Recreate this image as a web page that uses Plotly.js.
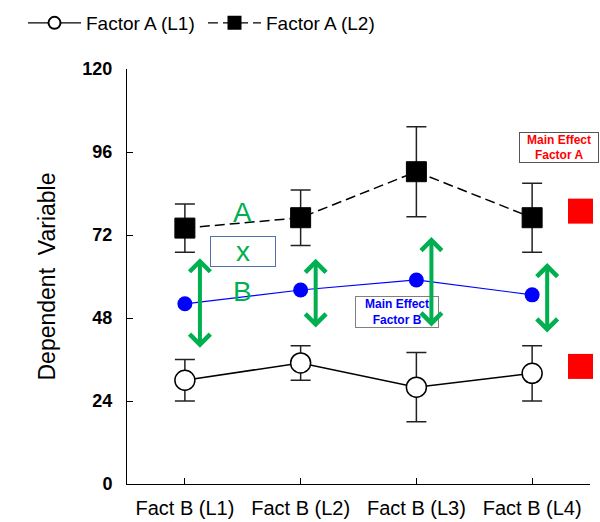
<!DOCTYPE html>
<html>
<head>
<meta charset="utf-8">
<script src="https://cdn.plot.ly/plotly-3.0.1.min.js"></script>
<style>
  html, body { margin: 0; padding: 0; background: #fff; }
  #chart { width: 600px; height: 522px; }
  #chart .legendlines path { stroke-width: 1.2px !important; }
</style>
</head>
<body>
<div id="chart"></div>
<script>
// ---- data ----
const categories = ['Fact B (L1)', 'Fact B (L2)', 'Fact B (L3)', 'Fact B (L4)'];
const factorA1 = [30, 35, 28, 32];
const factorA1Err = [6, 5, 10, 8];
const factorA2 = [74, 77, 90.3, 77];
const factorA2Err = [7, 8, 13, 10];
const meanB = [52.1, 56.1, 59.0, 54.7];
const mainEffectA = [78.9, 34.0];
const arrowTop = [65.3, 65.1, 71.4, 63.9];
const arrowBottom = [39.0, 44.8, 45.1, 43.4];
const yTicks = [0, 24, 48, 72, 96, 120];

// ---- build ----
const xs = categories.map((c, i) => i);
const FONT = 'Liberation Sans, Arial, Helvetica, sans-serif';
const GREEN = '#00B050';

const traces = [
  {
    name: 'Factor A (L1)', x: xs, y: factorA1, type: 'scatter', mode: 'lines+markers',
    line: {color: '#000', width: 1.5},
    marker: {symbol: 'circle', size: 20, color: '#fff', line: {color: '#000', width: 1.5}},
    error_y: {type: 'data', array: factorA1Err, visible: true, color: '#222', thickness: 1.5, width: 10},
    showlegend: true
  },
  {
    name: 'Factor A (L2)', x: xs, y: factorA2, type: 'scatter', mode: 'lines+markers',
    line: {color: '#000', width: 1.5, dash: '10px,5px'},
    marker: {symbol: 'square', size: 20, color: '#000', line: {color: '#000', width: 1}},
    error_y: {type: 'data', array: factorA2Err, visible: true, color: '#222', thickness: 1.5, width: 10},
    showlegend: true
  },
  {
    name: 'Mean', x: xs, y: meanB, type: 'scatter', mode: 'lines+markers',
    line: {color: '#0000FF', width: 1.2},
    marker: {symbol: 'circle', size: 15, color: '#0000FF'},
    showlegend: false
  },
  {
    name: 'Main Effect A', x: mainEffectA.map(() => categories.length - 1 + 0.418), y: mainEffectA,
    type: 'scatter', mode: 'markers',
    marker: {symbol: 'square', size: 25, color: '#FF0000'},
    cliponaxis: false, showlegend: false
  }
];

const annotations = [];
// text labels A, x, B
annotations.push({x: 0.5, y: 78.4, xref: 'x', yref: 'y', text: 'A', showarrow: false,
  font: {family: FONT, size: 28, color: GREEN}});
annotations.push({x: 0.5, y: 67.3, xref: 'x', yref: 'y', text: 'x', showarrow: false,
  font: {family: FONT, size: 28, color: GREEN}, bordercolor: '#4F71A8', borderwidth: 1,
  borderpad: 0, width: 64, height: 29, valign: 'middle'});
annotations.push({x: 0.5, y: 55.7, xref: 'x', yref: 'y', text: 'B', showarrow: false,
  font: {family: FONT, size: 28, color: GREEN}});
// main effect boxes
annotations.push({x: 1.836, y: 49.7, xref: 'x', yref: 'y', text: '<b>Main Effect</b><br><b>Factor B</b>',
  showarrow: false, font: {family: FONT, size: 12, color: '#0000FF'}, bordercolor: '#808080',
  borderwidth: 1, borderpad: 0, width: 82, height: 30, bgcolor: 'rgba(255,255,255,0)'});
annotations.push({x: 3.23, y: 97.4, xref: 'x', yref: 'y', text: '<b>Main Effect</b><br><b>Factor A</b>',
  showarrow: false, font: {family: FONT, size: 12, color: '#FF0000'}, bordercolor: '#555555',
  borderwidth: 1, borderpad: 0, width: 78, height: 29});
// green double arrows
xs.forEach((xv, i) => {
  annotations.push({
    x: xv + 0.13, y: arrowTop[i], ax: xv + 0.13, ay: arrowBottom[i],
    xref: 'x', yref: 'y', axref: 'x', ayref: 'y', text: '', showarrow: true,
    arrowhead: 4, startarrowhead: 4, arrowside: 'end+start', arrowsize: 1, startarrowsize: 1,
    arrowwidth: 4, arrowcolor: GREEN, standoff: 0, startstandoff: 0
  });
});

const layout = {
  width: 600, height: 522,
  margin: {l: 127, r: 10, t: 69, b: 38},
  paper_bgcolor: '#fff', plot_bgcolor: '#fff',
  font: {family: FONT, color: '#000'},
  showlegend: true,
  legend: {
    orientation: 'h', xref: 'container', yref: 'container',
    x: 23 / 600, y: 1 - 4 / 522, xanchor: 'left', yanchor: 'top',
    itemwidth: 53, itemsizing: 'constant', entrywidth: 112, entrywidthmode: 'pixels',
    font: {family: FONT, size: 19, color: '#000'},
    bgcolor: 'rgba(0,0,0,0)', traceorder: 'normal'
  },
  xaxis: {
    range: [-0.5, 3.5], tickmode: 'array', tickvals: xs, ticktext: categories,
    showgrid: false, zeroline: false, showline: true, linecolor: '#000', linewidth: 1,
    ticks: 'inside', ticklen: 6, tickcolor: '#000', tickwidth: 1,
    tickfont: {family: FONT, size: 20, color: '#000'}, ticklabelstandoff: 6, fixedrange: true
  },
  yaxis: {
    range: [0, 120], tickmode: 'array', tickvals: yTicks,
    ticktext: yTicks.map(v => '<b>' + v + '</b>'),
    showgrid: false, zeroline: false, showline: true, linecolor: '#000', linewidth: 1,
    ticks: 'inside', ticklen: 6, tickcolor: '#000', tickwidth: 1,
    tickfont: {family: FONT, size: 18, color: '#000'}, ticklabelstandoff: 10,
    title: {text: 'Dependent\u00a0\u00a0Variable', font: {family: FONT, size: 23, color: '#000'}, standoff: 20},
    fixedrange: true
  },
  annotations: annotations
};

Plotly.newPlot('chart', traces, layout, {displayModeBar: false, staticPlot: true});
</script>
</body>
</html>
